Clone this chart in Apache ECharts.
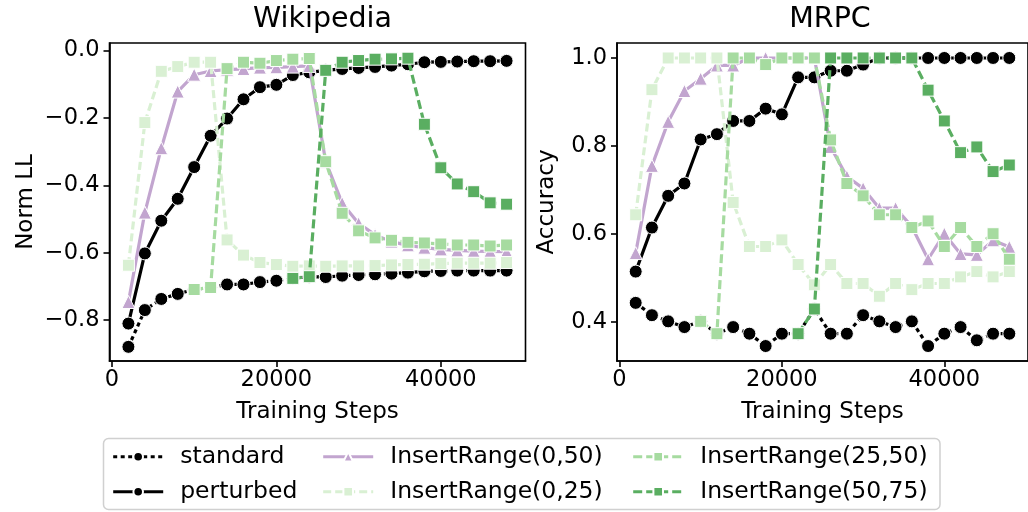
<!DOCTYPE html>
<html><head><meta charset="utf-8">
<script src="https://cdn.jsdelivr.net/npm/echarts@6/dist/echarts.min.js"></script>
<style>html,body{margin:0;padding:0;background:#fff}#c{width:1028px;height:512px}</style>
</head><body><div id="c"></div>
<script>
// ---- data ----
const steps = [2000, 4000, 6000, 8000, 10000, 12000, 14000, 16000, 18000, 20000, 22000, 24000,
               26000, 28000, 30000, 32000, 34000, 36000, 38000, 40000, 42000, 44000, 46000, 48000];

const seriesNames = ['standard', 'perturbed', 'InsertRange(0,50)', 'InsertRange(0,25)', 'InsertRange(25,50)', 'InsertRange(50,75)'];

const wikiStandard  = [-0.879, -0.770, -0.737, -0.722, -0.709, -0.703, -0.694, -0.694, -0.687, -0.683, -0.676, -0.671,
                       -0.672, -0.668, -0.666, -0.664, -0.662, -0.659, -0.655, -0.654, -0.653, -0.653, -0.653, -0.653];
const wikiPerturbed = [-0.810, -0.602, -0.505, -0.440, -0.346, -0.253, -0.202, -0.145, -0.109, -0.102, -0.073, -0.065,
                       -0.059, -0.055, -0.052, -0.049, -0.045, -0.041, -0.035, -0.034, -0.033, -0.032, -0.032, -0.031];
const wikiIR050     = [-0.746, -0.481, -0.290, -0.122, -0.072, -0.061, -0.057, -0.055, -0.051, -0.050, -0.048, -0.046,
                       -0.330, -0.453, -0.513, -0.547, -0.567, -0.578, -0.585, -0.590, -0.593, -0.595, -0.596, -0.597];
const wikiIR025     = [-0.637, -0.214, -0.062, -0.048, -0.035, -0.035, -0.562, -0.607, -0.629, -0.635, -0.640, -0.639,
                       -0.640, -0.639, -0.639, -0.638, -0.636, -0.635, -0.634, -0.632, -0.631, -0.631, -0.631, -0.629];
const wikiIR2550    = [null, null, null, null, -0.709, -0.703, -0.054, -0.035, -0.038, -0.030, -0.026, -0.024,
                       -0.330, -0.483, -0.535, -0.556, -0.563, -0.569, -0.571, -0.574, -0.577, -0.577, -0.580, -0.577];
const wikiIR5075    = [null, null, null, null, null, null, null, null, null, null, -0.676, -0.671,
                       -0.059, -0.035, -0.030, -0.026, -0.025, -0.023, -0.219, -0.348, -0.396, -0.419, -0.452, -0.456];

const mrpcStandard  = [0.444, 0.416, 0.402, 0.389, 0.402, 0.374, 0.389, 0.374, 0.346, 0.374, 0.374, 0.430,
                       0.374, 0.374, 0.416, 0.402, 0.389, 0.402, 0.346, 0.374, 0.389, 0.359, 0.374, 0.374];
const mrpcPerturbed = [0.515, 0.615, 0.687, 0.715, 0.815, 0.827, 0.857, 0.857, 0.885, 0.872, 0.956, 0.956,
                       0.971, 0.971, 0.985, 1.000, 1.000, 1.000, 1.000, 1.000, 1.000, 1.000, 1.000, 1.000];
const mrpcIR050     = [0.557, 0.755, 0.855, 0.925, 0.953, 0.983, 0.983, 1.000, 1.000, 1.000, 1.000, 1.000,
                       0.798, 0.731, 0.704, 0.659, 0.659, 0.617, 0.543, 0.601, 0.555, 0.553, 0.586, 0.571];
const mrpcIR025     = [0.644, 0.928, 1.000, 1.000, 1.000, 1.000, 0.672, 0.572, 0.572, 0.587, 0.531, 0.485,
                       0.531, 0.488, 0.488, 0.459, 0.488, 0.474, 0.488, 0.488, 0.503, 0.515, 0.503, 0.515];
const mrpcIR2550    = [null, null, null, null, 0.402, 0.374, 1.000, 1.000, 0.985, 1.000, 1.000, 1.000,
                       0.814, 0.715, 0.687, 0.644, 0.644, 0.615, 0.630, 0.572, 0.615, 0.572, 0.601, 0.543];
const mrpcIR5075    = [null, null, null, null, null, null, null, null, null, null, 0.374, 0.430,
                       1.000, 1.000, 1.000, 1.000, 1.000, 1.000, 0.927, 0.857, 0.785, 0.798, 0.742, 0.757];

const wikiTicks = [-0.8, -0.6, -0.4, -0.2, 0.0];
const mrpcTicks = [0.4, 0.6, 0.8, 1.0];
const xTicks = [0, 20000, 40000];

// ---- styling ----
const FONT = 'DejaVu Sans';
const styles = [
  {color: '#000000', symbol: 'circle',   size: 13, dash: [4, 3.5]},
  {color: '#000000', symbol: 'circle',   size: 13, dash: 'solid'},
  {color: '#c2a5cf', symbol: 'triangle', size: 13, dash: 'solid'},
  {color: '#d9f0d3', symbol: 'rect',     size: 12, dash: [8, 4]},
  {color: '#a6dba0', symbol: 'rect',     size: 12, dash: [9, 4]},
  {color: '#5aae61', symbol: 'rect',     size: 12, dash: [9, 4]}
];
const wikiData = [wikiStandard, wikiPerturbed, wikiIR050, wikiIR025, wikiIR2550, wikiIR5075];
const mrpcData = [mrpcStandard, mrpcPerturbed, mrpcIR050, mrpcIR025, mrpcIR2550, mrpcIR5075];

function pairs(vals) {
  const out = [];
  vals.forEach((v, i) => { if (v !== null) out.push([steps[i], v]); });
  return out;
}
function fmtY(v) {
  const s = Math.abs(v).toFixed(1);
  return (v < -1e-9 ? '\u2212' : '') + s;
}

const series = [];
[wikiData, mrpcData].forEach((ds, gi) => {
  ds.forEach((vals, si) => {
    const st = styles[si];
    series.push({
      type: 'line', name: seriesNames[si], xAxisIndex: gi, yAxisIndex: gi,
      data: pairs(vals), symbol: st.symbol, symbolSize: st.size, showSymbol: true,
      lineStyle: {color: st.color, width: 3.2, type: st.dash, cap: 'butt'},
      itemStyle: {color: st.color, borderColor: '#ffffff', borderWidth: 1},
      emphasis: {disabled: true}, animation: false, z: 2 + si
    });
  });
});

const axisCommonX = (gi) => ({
  type: 'value', gridIndex: gi, min: -300, max: 50300,
  name: 'Training Steps', nameLocation: 'middle', nameGap: 40,
  nameTextStyle: {fontFamily: FONT, fontSize: 23, color: '#000'},
  axisLine: {onZero: false, lineStyle: {color: '#000', width: 1.6}},
  axisTick: {show: true, length: 6, lineStyle: {color: '#000', width: 1.6}, customValues: xTicks},
  axisLabel: {fontFamily: FONT, fontSize: 22.5, color: '#000', margin: 8, customValues: xTicks, formatter: v => String(v)},
  splitLine: {show: false}
});

const legendItem = (name, left, top, si) => ({
  show: true, left: left, top: top, padding: 0, orient: 'vertical',
  itemWidth: 50, itemHeight: 12, selectedMode: false, data: [name],
  lineStyle: {width: 3, color: styles[si].color, type: styles[si].dash},
  textStyle: {fontFamily: FONT, fontSize: 23.5, color: '#000', lineHeight: 26, padding: [0, 0, 0, 12]}
});

const option = {
  backgroundColor: '#ffffff',
  animation: false,
  title: [
    {text: 'Wikipedia', left: 317.5, top: 0, textAlign: 'center',
     textStyle: {fontFamily: FONT, fontSize: 28.5, fontWeight: 'normal', color: '#000'}},
    {text: 'MRPC', left: 825, top: 0, textAlign: 'center',
     textStyle: {fontFamily: FONT, fontSize: 28.5, fontWeight: 'normal', color: '#000'}}
  ],
  grid: [
    {left: 109.5, top: 43, width: 416, height: 318, show: true, borderColor: '#000', borderWidth: 1.6, backgroundColor: 'transparent'},
    {left: 617, top: 43, width: 416, height: 318, show: true, borderColor: '#000', borderWidth: 1.6, backgroundColor: 'transparent'}
  ],
  xAxis: [axisCommonX(0), axisCommonX(1)],
  yAxis: [
    {type: 'value', gridIndex: 0, min: -0.921, max: 0.022,
     name: 'Norm LL', nameLocation: 'middle', nameGap: 72,
     nameTextStyle: {fontFamily: FONT, fontSize: 23, color: '#000'},
     axisLine: {onZero: false, lineStyle: {color: '#000', width: 1.6}},
     axisTick: {show: true, length: 6, lineStyle: {color: '#000', width: 1.6}, customValues: wikiTicks},
     axisLabel: {fontFamily: FONT, fontSize: 22.5, color: '#000', margin: 10, customValues: wikiTicks, formatter: fmtY},
     splitLine: {show: false}},
    {type: 'value', gridIndex: 1, min: 0.312, max: 1.034,
     name: 'Accuracy', nameLocation: 'middle', nameGap: 58,
     nameTextStyle: {fontFamily: FONT, fontSize: 23, color: '#000'},
     axisLine: {onZero: false, lineStyle: {color: '#000', width: 1.6}},
     axisTick: {show: true, length: 6, lineStyle: {color: '#000', width: 1.6}, customValues: mrpcTicks},
     axisLabel: {fontFamily: FONT, fontSize: 22.5, color: '#000', margin: 10, customValues: mrpcTicks, formatter: fmtY},
     splitLine: {show: false}}
  ],
  legend: [
    legendItem(seriesNames[0], 111.7, 443.7, 0),
    legendItem(seriesNames[1], 111.7, 478.7, 1),
    legendItem(seriesNames[2], 321.7, 443.7, 2),
    legendItem(seriesNames[3], 321.7, 478.7, 3),
    legendItem(seriesNames[4], 631.7, 443.7, 4),
    legendItem(seriesNames[5], 631.7, 478.7, 5)
  ],
  graphic: [
    {type: 'rect', z: -10, silent: true,
     shape: {x: 103.5, y: 438.5, width: 836.5, height: 71, r: 5},
     style: {fill: '#ffffff', stroke: '#d0d0d0', lineWidth: 1.5}}
  ],
  series: series
};

const chart = echarts.init(document.getElementById('c'), null, {renderer: 'canvas'});
chart.setOption(option);
</script>
</body></html>
